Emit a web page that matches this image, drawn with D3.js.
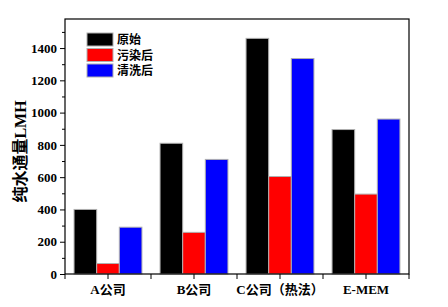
<!DOCTYPE html>
<html>
<head>
<meta charset="utf-8">
<script src="https://cdn.jsdelivr.net/npm/d3@7"></script>
<style>
  body { margin: 0; background: #fff; }
  text { font-family: "Liberation Serif", "Noto Sans CJK SC", serif; font-weight: bold; }
</style>
</head>
<body>
<script>
// Categories and series
var categories = ["A公司", "B公司", "C公司（热法）", "E-MEM"];
var seriesNames = ["原始", "污染后", "清洗后"];
var seriesColors = ["#000000", "#ff0000", "#0000ff"];
var original = [400, 810, 1460, 895];
var fouled = [65, 258, 604, 495];
var cleaned = [290, 710, 1335, 960];
var yTicks = [0, 200, 400, 600, 800, 1000, 1200, 1400];

var series = [original, fouled, cleaned];

var width = 448, height = 307;
var margin = { left: 65, right: 39, top: 19, bottom: 33 };

var svg = d3.select("body").append("svg")
  .attr("width", width)
  .attr("height", height);

var x = d3.scaleBand()
  .domain(categories)
  .range([margin.left, width - margin.right])
  .paddingInner(0)
  .paddingOuter(0);

var inner = d3.scaleBand()
  .domain(d3.range(series.length))
  .range([0, x.bandwidth()])
  .paddingOuter(0.4)
  .paddingInner(0);

var y = d3.scaleLinear()
  .domain([0, 1580])
  .range([height - margin.bottom, margin.top]);

// Bars
series.forEach(function (values, si) {
  svg.append("g").selectAll("rect")
    .data(values)
    .enter().append("rect")
    .attr("x", function (d, i) { return x(categories[i]) + inner(si); })
    .attr("y", function (d) { return y(d); })
    .attr("width", inner.bandwidth())
    .attr("height", function (d) { return y(0) - y(d); })
    .attr("fill", seriesColors[si])
    .attr("stroke", "#b0b0b0")
    .attr("stroke-width", 1);
});

// Frame
svg.append("rect")
  .attr("x", margin.left)
  .attr("y", margin.top)
  .attr("width", width - margin.left - margin.right)
  .attr("height", height - margin.top - margin.bottom)
  .attr("fill", "none")
  .attr("stroke", "#000")
  .attr("stroke-width", 1.2);

// Y axis
var yAxis = svg.append("g")
  .attr("transform", "translate(" + margin.left + ",0)")
  .call(d3.axisLeft(y).tickValues(yTicks).tickFormat(d3.format("d")).tickSize(5).tickPadding(3));
yAxis.select(".domain").remove();
yAxis.selectAll("text").style("font-size", "13px").attr("fill", "#000");

svg.append("g")
  .attr("transform", "translate(" + margin.left + ",0)")
  .call(d3.axisLeft(y).tickValues(d3.range(100, 1600, 200)).tickSize(3).tickFormat(""))
  .select(".domain").remove();

// X axis
var xAxis = svg.append("g")
  .attr("transform", "translate(0," + (height - margin.bottom) + ")")
  .call(d3.axisBottom(x).tickSize(5).tickPadding(6));
xAxis.select(".domain").remove();
xAxis.selectAll("text").style("font-size", "13px").attr("fill", "#000");

// boundary ticks between groups
var bounds = categories.map(function (c) { return x(c); }).concat([width - margin.right]);
svg.append("g").selectAll("line")
  .data(bounds)
  .enter().append("line")
  .attr("x1", function (d) { return d; })
  .attr("x2", function (d) { return d; })
  .attr("y1", height - margin.bottom)
  .attr("y2", height - margin.bottom + 5)
  .attr("stroke", "#000");

// Y axis title
svg.append("text")
  .attr("transform", "translate(26," + (margin.top + (height - margin.top - margin.bottom) / 2 + 5) + ") rotate(-90)")
  .attr("text-anchor", "middle")
  .style("font-size", "16px")
  .text("纯水通量LMH");

// Legend
var legend = svg.append("g").attr("transform", "translate(87,33)");
seriesNames.forEach(function (name, i) {
  var g = legend.append("g").attr("transform", "translate(0," + (i * 15.5) + ")");
  g.append("rect")
    .attr("width", 26)
    .attr("height", 13)
    .attr("fill", seriesColors[i])
    .attr("stroke", "#b0b0b0");
  g.append("text")
    .attr("x", 30)
    .attr("y", 11)
    .style("font-size", "12px")
    .text(name);
});
</script>
</body>
</html>
